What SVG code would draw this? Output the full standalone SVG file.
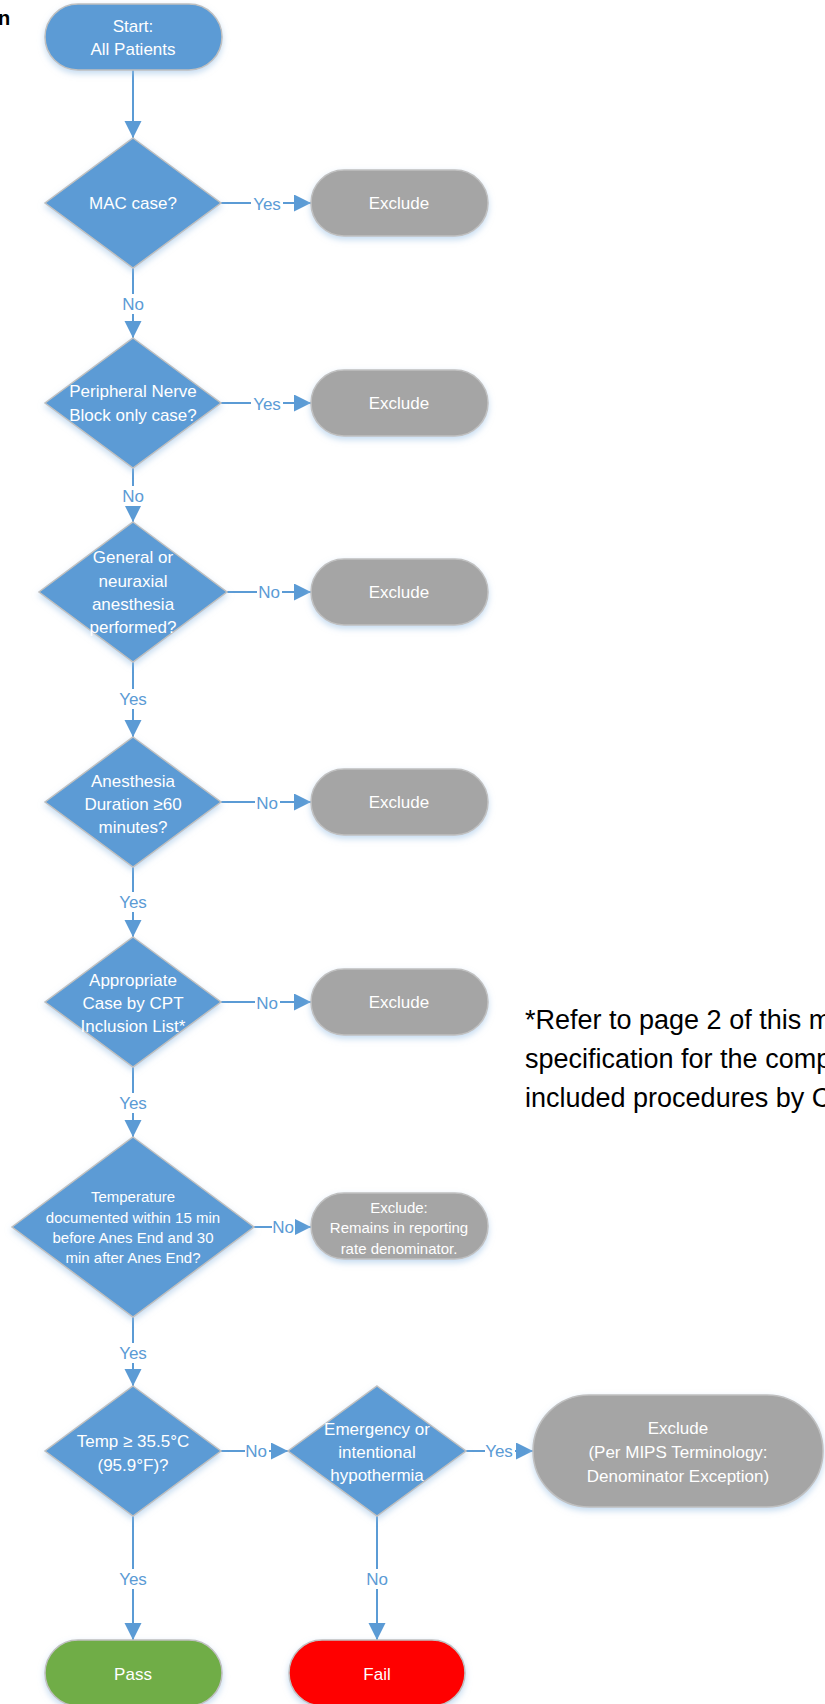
<svg xmlns="http://www.w3.org/2000/svg" width="825" height="1704" viewBox="0 0 825 1704">
<style>
.n text{font-family:"Liberation Sans",Arial,sans-serif;font-size:17px;fill:#FFFFFF;text-anchor:middle}
.n .s{font-size:15px}
.dia{fill:#5B9BD5;stroke:#C0C0C0;stroke-width:1.5}
.gray{fill:#A5A5A5;stroke:#C0C0C0;stroke-width:1.5}
.blue{fill:#5B9BD5;stroke:#C0C0C0;stroke-width:1.5}
.green{fill:#70AD47;stroke:#C0C0C0;stroke-width:1.5}
.red{fill:#FF0000;stroke:#C0C0C0;stroke-width:1.5}
.c line{stroke:#5B9BD5;stroke-width:2;fill:none;marker-end:url(#ah)}
.c rect{fill:#FFFFFF}
.c text{font-family:"Liberation Sans",Arial,sans-serif;font-size:17px;fill:#5B9BD5;text-anchor:middle}
.note{font-family:"Liberation Sans",Arial,sans-serif;font-size:27px;fill:#000000}
</style>
<defs>
<marker id="ah" markerUnits="userSpaceOnUse" markerWidth="18" markerHeight="18" refX="17" refY="8.5" orient="auto"><path d="M0,0 L17,8.5 L0,17 z" fill="#5B9BD5"/></marker>
<filter id="sh" x="-20%" y="-20%" width="140%" height="150%"><feDropShadow dx="0" dy="3" stdDeviation="3" flood-color="#9DC3E6" flood-opacity="0.6"/></filter>
</defs>
<rect width="825" height="1704" fill="#FFFFFF"/>
<text x="-2" y="25" style="font-family:'Liberation Sans',Arial,sans-serif;font-size:20px;font-weight:bold;fill:#000">n</text>

<g id="connectors" class="c">
<line x1="133" y1="70" x2="133" y2="138"/>
<line x1="221" y1="203" x2="311" y2="203"/>
<line x1="133" y1="268" x2="133" y2="338"/>
<line x1="221" y1="403" x2="311" y2="403"/>
<line x1="133" y1="468" x2="133" y2="522"/>
<line x1="227" y1="592" x2="311" y2="592"/>
<line x1="133" y1="662" x2="133" y2="737"/>
<line x1="221" y1="802" x2="311" y2="802"/>
<line x1="133" y1="867" x2="133" y2="937"/>
<line x1="221" y1="1002" x2="311" y2="1002"/>
<line x1="133" y1="1067" x2="133" y2="1137"/>
<line x1="254" y1="1227" x2="311" y2="1227"/>
<line x1="133" y1="1317" x2="133" y2="1386"/>
<line x1="221" y1="1451" x2="288" y2="1451"/>
<line x1="466" y1="1451" x2="533" y2="1451"/>
<line x1="133" y1="1516" x2="133" y2="1640"/>
<line x1="377" y1="1516" x2="377" y2="1640"/>
<rect x="251" y="195" width="32" height="18"/><text x="267" y="210">Yes</text>
<rect x="120" y="294" width="26" height="20"/><text x="133" y="310">No</text>
<rect x="251" y="395" width="32" height="18"/><text x="267" y="410">Yes</text>
<rect x="120" y="486" width="26" height="20"/><text x="133" y="502">No</text>
<rect x="257" y="584" width="25" height="18"/><text x="269" y="598">No</text>
<rect x="117" y="689" width="32" height="20"/><text x="133" y="705">Yes</text>
<rect x="255" y="795" width="25" height="18"/><text x="267" y="809">No</text>
<rect x="117" y="892" width="32" height="20"/><text x="133" y="908">Yes</text>
<rect x="255" y="995" width="25" height="18"/><text x="267" y="1009">No</text>
<rect x="117" y="1093" width="32" height="20"/><text x="133" y="1109">Yes</text>
<rect x="272" y="1219" width="23" height="18"/><text x="283" y="1233">No</text>
<rect x="117" y="1343" width="32" height="20"/><text x="133" y="1359">Yes</text>
<rect x="245" y="1443" width="24" height="18"/><text x="256" y="1457">No</text>
<rect x="485" y="1443" width="30" height="18"/><text x="499" y="1457">Yes</text>
<rect x="117" y="1569" width="32" height="20"/><text x="133" y="1585">Yes</text>
<rect x="364" y="1569" width="26" height="20"/><text x="377" y="1585">No</text>
</g>

<g id="start" class="n"><rect class="blue" x="45" y="4" width="177" height="66" rx="33" filter="url(#sh)"/><text x="133" y="32">Start:</text><text x="133" y="55">All Patients</text></g>

<g id="d1" class="n"><polygon class="dia" points="133,138 221,203 133,268 45,203" filter="url(#sh)"/><text x="133" y="209">MAC case?</text></g>
<g id="e1" class="n"><rect class="gray" x="311" y="170" width="177" height="66" rx="33" filter="url(#sh)"/><text x="399" y="209">Exclude</text></g>

<g id="d2" class="n"><polygon class="dia" points="133,338 221,403 133,468 45,403" filter="url(#sh)"/><text x="133" y="397">Peripheral Nerve</text><text x="133" y="421">Block only case?</text></g>
<g id="e2" class="n"><rect class="gray" x="311" y="370" width="177" height="66" rx="33" filter="url(#sh)"/><text x="399" y="409">Exclude</text></g>

<g id="d3" class="n"><polygon class="dia" points="133,522 227,592 133,662 39,592" filter="url(#sh)"/><text x="133" y="563">General or</text><text x="133" y="587">neuraxial</text><text x="133" y="610">anesthesia</text><text x="133" y="633">performed?</text></g>
<g id="e3" class="n"><rect class="gray" x="311" y="559" width="177" height="66" rx="33" filter="url(#sh)"/><text x="399" y="598">Exclude</text></g>

<g id="d4" class="n"><polygon class="dia" points="133,737 221,802 133,867 45,802" filter="url(#sh)"/><text x="133" y="787">Anesthesia</text><text x="133" y="810">Duration ≥60</text><text x="133" y="833">minutes?</text></g>
<g id="e4" class="n"><rect class="gray" x="311" y="769" width="177" height="66" rx="33" filter="url(#sh)"/><text x="399" y="808">Exclude</text></g>

<g id="d5" class="n"><polygon class="dia" points="133,937 221,1002 133,1067 45,1002" filter="url(#sh)"/><text x="133" y="986">Appropriate</text><text x="133" y="1009">Case by CPT</text><text x="133" y="1032">Inclusion List*</text></g>
<g id="e5" class="n"><rect class="gray" x="311" y="969" width="177" height="66" rx="33" filter="url(#sh)"/><text x="399" y="1008">Exclude</text></g>

<g id="note"><text class="note" x="525" y="1029">*Refer to page 2 of this m</text><text class="note" x="525" y="1068">specification for the comp</text><text class="note" x="525" y="1107">included procedures by C</text></g>

<g id="d6" class="n"><polygon class="dia" points="133,1137 254,1227 133,1317 12,1227" filter="url(#sh)"/><text class="s" x="133" y="1202">Temperature</text><text class="s" x="133" y="1223">documented within 15 min</text><text class="s" x="133" y="1243">before Anes End and 30</text><text class="s" x="133" y="1263">min after Anes End?</text></g>
<g id="e6" class="n"><rect class="gray" x="311" y="1193" width="177" height="66" rx="33" filter="url(#sh)"/><text class="s" x="399" y="1213">Exclude:</text><text class="s" x="399" y="1233">Remains in reporting</text><text class="s" x="399" y="1254">rate denominator.</text></g>

<g id="d7" class="n"><polygon class="dia" points="133,1386 221,1451 133,1516 45,1451" filter="url(#sh)"/><text x="133" y="1447">Temp ≥ 35.5°C</text><text x="133" y="1471">(95.9°F)?</text></g>

<g id="d8" class="n"><polygon class="dia" points="377,1386 466,1451 377,1516 288,1451" filter="url(#sh)"/><text x="377" y="1435">Emergency or</text><text x="377" y="1458">intentional</text><text x="377" y="1481">hypothermia</text></g>
<g id="e7" class="n"><rect class="gray" x="533" y="1395" width="290" height="112" rx="56" filter="url(#sh)"/><text x="678" y="1434">Exclude</text><text x="678" y="1458">(Per MIPS Terminology:</text><text x="678" y="1482">Denominator Exception)</text></g>

<g id="pass" class="n"><rect class="green" x="45" y="1640" width="177" height="66" rx="33" filter="url(#sh)"/><text x="133" y="1680">Pass</text></g>
<g id="fail" class="n"><rect class="red" x="289" y="1640" width="176" height="66" rx="33" filter="url(#sh)"/><text x="377" y="1680">Fail</text></g>
</svg>
